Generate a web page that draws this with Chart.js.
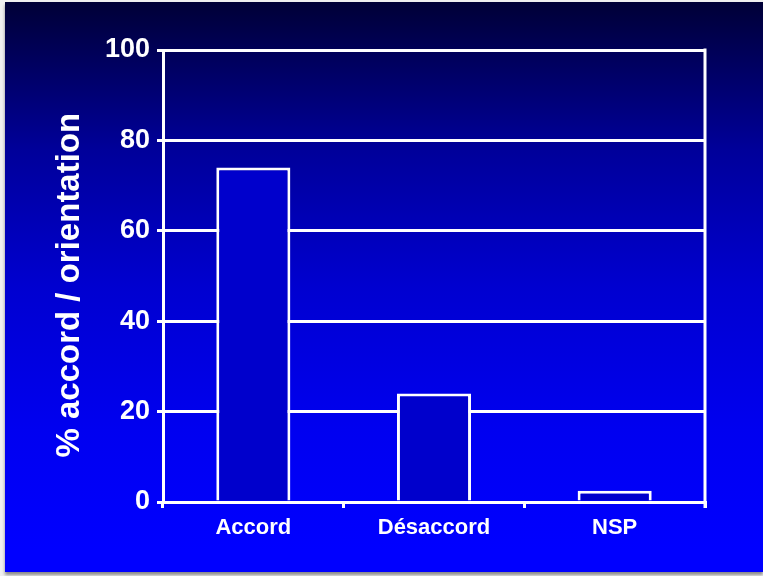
<!DOCTYPE html>
<html>
<head>
<meta charset="utf-8">
<script src="https://cdn.jsdelivr.net/npm/chart.js@4/dist/chart.umd.min.js"></script>
<style>
  html, body { margin: 0; padding: 0; background: #f0f0f0; width: 763px; height: 576px; overflow: hidden; }
  #panel {
    position: absolute; left: 5px; top: 2px; width: 758px; height: 570px;
    background: linear-gradient(to bottom, #000036 0%, #000042 3%, #00009a 26%, #0000d0 50%, #0000f0 75%, #0000ff 96%, #0000ff 100%);
    box-shadow: 0 3px 3px #8a8a8a;
  }
  #chart { position: absolute; left: 0; top: 0; }
</style>
</head>
<body>
<div id="panel"></div>
<canvas id="chart" width="763" height="576"></canvas>
<script>
// Survey answers: agreement with the orientation
const categories = ['Accord', 'Désaccord', 'NSP'];
const percentages = [74, 24, 2.5];
const yTicks = [0, 20, 40, 60, 80, 100];

const FONT = "'Liberation Sans', Arial, Helvetica, sans-serif";

// Closing line on the right side of the plot area
const rightEdge = {
  id: 'rightEdge',
  afterDraw(chart) {
    const { ctx, chartArea } = chart;
    ctx.save();
    ctx.strokeStyle = '#ffffff';
    ctx.lineWidth = 3;
    ctx.beginPath();
    ctx.moveTo(chartArea.right, chartArea.top - 1.5);
    ctx.lineTo(chartArea.right, chartArea.bottom + 6);
    ctx.stroke();
    ctx.restore();
  }
};

new Chart(document.getElementById('chart'), {
  type: 'bar',
  data: {
    labels: categories,
    datasets: [{
      data: percentages,
      backgroundColor: '#0000cc',
      borderColor: '#ffffff',
      borderWidth: 3,
      borderSkipped: 'start',
      categoryPercentage: 1,
      barPercentage: 0.41
    }]
  },
  options: {
    responsive: false,
    animation: false,
    layout: { padding: { left: 50, right: 58, top: 50, bottom: 0 } },
    plugins: { legend: { display: false }, tooltip: { enabled: false } },
    scales: {
      x: {
        grid: { display: true, drawOnChartArea: false, drawTicks: true, tickLength: 6, color: '#ffffff', lineWidth: 3, offset: true },
        border: { display: true, color: '#ffffff', width: 3 },
        ticks: { color: '#ffffff', padding: 7, font: { family: FONT, size: 22, weight: 'bold' } },
        afterFit(scale) { scale.height = 74; }
      },
      y: {
        min: 0,
        max: 100,
        afterBuildTicks(scale) { scale.ticks = yTicks.map(v => ({ value: v })); },
        grid: { color: '#ffffff', lineWidth: 3, tickLength: 6, drawTicks: true },
        border: { display: true, color: '#ffffff', width: 3 },
        ticks: { color: '#ffffff', padding: 7, font: { family: FONT, size: 27, weight: 'bold' } },
        title: {
          display: true,
          // trailing spaces nudge the rotated title slightly lower
          text: '% accord / orientation  ',
          color: '#ffffff',
          padding: { top: 0, bottom: 0 },
          font: { family: FONT, size: 33, weight: 'bold' }
        },
        afterFit(scale) { scale.width = 113; }
      }
    }
  },
  plugins: [rightEdge]
});
</script>
</body>
</html>
